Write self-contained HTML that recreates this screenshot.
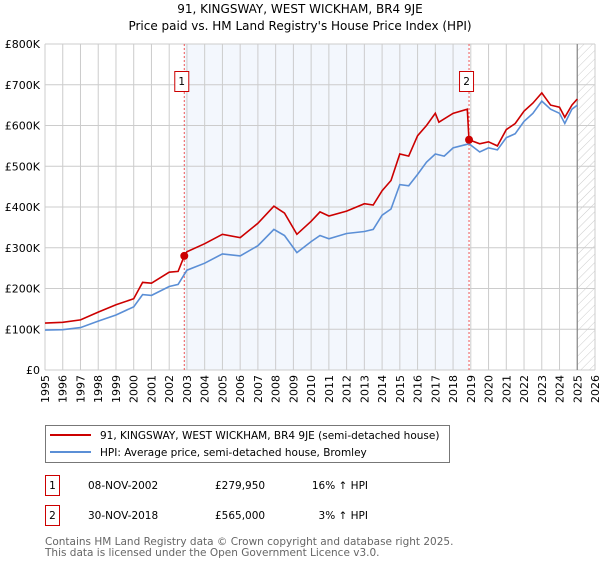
<!DOCTYPE html>
<html><head><meta charset="utf-8"><style>
body{margin:0;background:#fff;font-family:"DejaVu Sans","Liberation Sans",sans-serif;}
svg text{font-family:"DejaVu Sans","Liberation Sans",sans-serif;}
</style></head><body>
<svg id="c" width="600" height="560" viewBox="0 0 600 560">
<defs><pattern id="hatch" width="6" height="6" patternUnits="userSpaceOnUse" patternTransform="rotate(45)"><line x1="0" y1="0" x2="0" y2="6" stroke="#ccc" stroke-width="1"/></pattern></defs>
<text x="300" y="13" text-anchor="middle" font-size="12">91, KINGSWAY, WEST WICKHAM, BR4 9JE</text>
<text x="300" y="30" text-anchor="middle" font-size="12">Price paid vs. HM Land Registry's House Price Index (HPI)</text>
<g id="plot"></g>
<g>
<rect x="45.5" y="425.5" width="404" height="37" fill="#fff" stroke="#777"/>
<line x1="50" y1="435" x2="91" y2="435" stroke="#cc0000" stroke-width="2"/>
<text x="100" y="439" font-size="10.5">91, KINGSWAY, WEST WICKHAM, BR4 9JE (semi-detached house)</text>
<line x1="50" y1="452" x2="91" y2="452" stroke="#5b8fd6" stroke-width="2"/>
<text x="100" y="456" font-size="10.5">HPI: Average price, semi-detached house, Bromley</text>
</g>
<g font-size="10.5">
<rect x="45.5" y="475.5" width="14" height="20" fill="#fff" stroke="#cc0000"/>
<text x="52.5" y="489" text-anchor="middle">1</text>
<text x="88" y="489">08-NOV-2002</text><text x="215" y="489">£279,950</text><text x="368" y="489" text-anchor="end">16% ↑ HPI</text>
<rect x="45.5" y="505.5" width="14" height="20" fill="#fff" stroke="#cc0000"/>
<text x="52.5" y="519" text-anchor="middle">2</text>
<text x="88" y="519">30-NOV-2018</text><text x="215" y="519">£565,000</text><text x="368" y="519" text-anchor="end">3% ↑ HPI</text>
</g>
<text x="45" y="545" font-size="10.5" fill="#666">Contains HM Land Registry data © Crown copyright and database right 2025.</text>
<text x="45" y="556" font-size="10.5" fill="#666">This data is licensed under the Open Government Licence v3.0.</text>
</svg>
<script>
const yTicks=[0,100,200,300,400,500,600,700,800];
const yTickLabels=["£0","£100K","£200K","£300K","£400K","£500K","£600K","£700K","£800K"];
const xYears=[1995,1996,1997,1998,1999,2000,2001,2002,2003,2004,2005,2006,2007,2008,2009,2010,2011,2012,2013,2014,2015,2016,2017,2018,2019,2020,2021,2022,2023,2024,2025,2026];
const hpiT=[1995,1996,1997,1998,1999,2000,2000.5,2001,2002,2002.5,2003,2004,2005,2006,2007,2007.9,2008.5,2009.2,2010,2010.5,2011,2012,2013,2013.5,2014,2014.5,2015,2015.5,2016,2016.5,2017,2017.5,2018,2018.9,2019.5,2020,2020.5,2021,2021.5,2022,2022.5,2023,2023.5,2024,2024.3,2024.7,2025.0];
const hpiV=[98,99,104,120,135,155,185,183,205,210,245,262,285,280,305,345,330,288,315,330,322,335,340,345,380,395,455,452,480,510,530,525,545,555,535,545,540,570,580,610,630,660,640,630,605,640,650];
const priceT=[1995,1996,1997,1998,1999,2000,2000.5,2001,2002,2002.5,2002.85,2003,2004,2005,2006,2007,2007.9,2008.5,2009.2,2010,2010.5,2011,2012,2013,2013.5,2014,2014.5,2015,2015.5,2016,2016.5,2017,2017.2,2018,2018.8,2018.9,2019.5,2020,2020.5,2021,2021.5,2022,2022.5,2023,2023.5,2024,2024.3,2024.7,2025.0];
const priceV=[115,117,123,142,160,175,215,213,240,242,280,290,310,333,325,360,402,385,333,365,388,378,390,408,405,440,465,530,525,575,600,630,608,630,640,565,555,560,550,590,605,635,655,680,650,645,620,650,665];
const saleT=[2002.85,2018.9];
const saleV=[279.95,565];
const saleLabels=["1","2"];
const L=45,R=595,T=44,B=370,X0=1995,X1=2026,YM=800;
const sx=t=>L+(t-X0)/(X1-X0)*(R-L);
const sy=v=>B-v/YM*(B-T);
const NS="http://www.w3.org/2000/svg";
const g=document.getElementById('plot');
function mk(tag,attrs,parent){const e=document.createElementNS(NS,tag);for(const k in attrs)e.setAttribute(k,attrs[k]);(parent||g).appendChild(e);return e;}
let e=mk('rect',{x:sx(saleT[0]),y:T,width:sx(saleT[1])-sx(saleT[0]),height:B-T,fill:'#eef3fc',opacity:0.7});


e=mk('rect',{x:sx(2025),y:T,width:R-sx(2025),height:B-T,fill:'url(#hatch)'});


xYears.forEach(y=>{const l=mk('line',{x1:sx(y),x2:sx(y),y1:T,y2:B,stroke:'#ccc','stroke-width':1});


const t=mk('text',{x:0,y:0,'font-size':11,'text-anchor':'end',transform:`translate(${sx(y)+4},${B+5}) rotate(-90)`});t.textContent=y;

});
yTicks.forEach((v,i)=>{const l=mk('line',{x1:L,x2:R,y1:sy(v),y2:sy(v),stroke:'#ccc','stroke-width':1});


const t=mk('text',{x:L-5,y:sy(v)+4,'font-size':11,'text-anchor':'end'});t.textContent=yTickLabels[i];

});
e=mk('line',{x1:sx(2025),x2:sx(2025),y1:T,y2:B,stroke:'#888','stroke-width':1.2});


saleT.forEach((t,i)=>{const l=mk('line',{x1:sx(t),x2:sx(t),y1:T,y2:B,stroke:'#e55','stroke-width':1,'stroke-dasharray':'2,2'});


const r=mk('rect',{x:sx(t)-9.5,y:71.5,width:14,height:20,fill:'#fff',stroke:'#cc0000'});


const tx=mk('text',{x:sx(t)-2.5,y:85,'font-size':10.5,'text-anchor':'middle'});tx.textContent=saleLabels[i];

});
const pts=(ts,vs)=>ts.map((t,i)=>sx(t).toFixed(1)+','+sy(vs[i]).toFixed(1)).join(' ');
e=mk('polyline',{points:pts(hpiT,hpiV),fill:'none',stroke:'#5b8fd6','stroke-width':1.6});


e=mk('polyline',{points:pts(priceT,priceV),fill:'none',stroke:'#cc0000','stroke-width':1.6});


saleT.forEach((t,i)=>{const c=mk('circle',{cx:sx(t),cy:sy(saleV[i]),r:4,fill:'#cc0000'});

});
</script>
</body></html>
